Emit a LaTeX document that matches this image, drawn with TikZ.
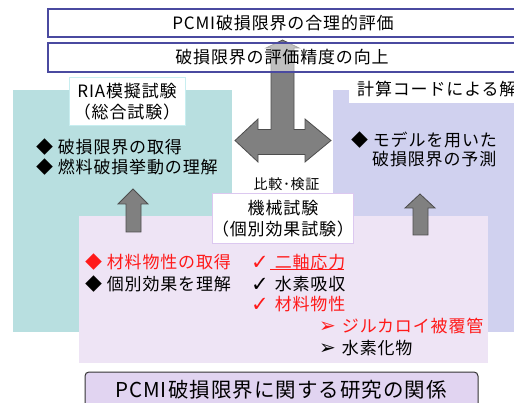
\documentclass[tikz,border=0pt]{standalone}
\usepackage{fontspec}
\setmainfont{Noto Sans CJK JP}[LetterSpace=5]
\newfontfamily\symf{DejaVu Sans}
\definecolor{tealbg}{HTML}{B8DFE0}
\definecolor{lavbg}{HTML}{D0D1EF}
\definecolor{pinkbg}{HTML}{EEE4F5}
\definecolor{capbg}{HTML}{E1D4F1}
\definecolor{navy}{HTML}{4A4AA0}
\definecolor{arrfill}{HTML}{808080}
\definecolor{arrdraw}{HTML}{4D4D4D}
\definecolor{redt}{HTML}{FF1A1A}
\definecolor{lilacb}{HTML}{DCC8F0}
\definecolor{tealb}{HTML}{C8EEF0}
\tikzset{
  txt/.style={inner sep=0pt, font=\fontsize{17}{19}\selectfont},
  bigarrow/.style={fill=arrfill, draw=arrdraw, line width=0.8pt, line join=miter},
  labelbox/.style={fill=white, line width=0.8pt},
  topbox/.style={draw=navy, line width=1.2pt},
}
\newcommand{\chk}{\raisebox{-1pt}{\symf\fontsize{21}{23}\selectfont ✓}\hspace{6pt}}
\newcommand{\arr}{\raisebox{0pt}{\symf\fontsize{20}{22}\selectfont ➢}\hspace{6pt}}
\begin{document}
\begin{tikzpicture}[x=1pt,y=-1pt]
\useasboundingbox (0,0) rectangle (514,403);
\clip (0,0) rectangle (514,403);
% top boxes
\draw[topbox, fill=white] (48,9) rectangle (530,37);
\node[txt] (t1) at (283,23) {PCMI破損限界の合理的評価};
% background regions
\fill[tealbg] (13,90) rectangle (232,332);
\fill[lavbg] (333,90) rectangle (530,332);
\fill[pinkbg] (79,216) rectangle (488,363);
% big arrow
\draw[bigarrow] (271,129.5) -- (271,48) -- (266,48) -- (282.5,40) -- (299,48) -- (294,48) -- (294,129.5)
  -- (305,129.5) -- (305,119) -- (331,140.5) -- (305,162) -- (305,154.5) -- (258,154.5) -- (258,162)
  -- (235,140.5) -- (258,119) -- (258,129.5) -- cycle;
\draw[topbox, fill=white, fill opacity=0.5] (48,43) rectangle (530,72);
\node[txt] (t2) at (282,57.5) {破損限界の評価精度の向上};
% RIA label
\draw[labelbox, draw=tealb] (69,77) rectangle (185,125);
\node[txt] (ria1) at (127,91) {RIA模擬試験};
\node[txt] (ria2) at (127,112) {（総合試験）};
% code label
\draw[labelbox, draw=white] (349,77) rectangle (530,102);
\node[txt, anchor=west] (code) at (357,89.5) {計算コードによる解析};
% teal text
\node[txt, anchor=west] (a1) at (36,147) {◆ 破損限界の取得};
\node[txt, anchor=west] (a2) at (36,167) {◆ 燃料破損挙動の理解};
% lavender text
\node[txt, anchor=west] (b1) at (351,140) {◆ モデルを用いた};
\node[txt, anchor=west] (b2) at (372,159) {破損限界の予測};
% compare label
\node[txt, font=\fontsize{14}{15}\selectfont] (cmp) at (286.5,184) {比較･検証};
% small arrows
\draw[bigarrow] (126,232) -- (126,204) -- (118,204) -- (133,189) -- (148,204) -- (141,204) -- (141,232) -- cycle;
\draw[bigarrow] (413,235) -- (413,208) -- (405,208) -- (420,194) -- (435,208) -- (428,208) -- (428,235) -- cycle;
% machine test label
\draw[labelbox, draw=lilacb] (212,193) rectangle (353,243);
\node[txt] (m1) at (283,208) {機械試験};
\node[txt] (m2) at (283,229) {（個別効果試験）};
% pink text
\node[txt, anchor=west, text=redt] (p1) at (85,262) {◆ 材料物性の取得};
\node[txt, anchor=west] (p2) at (85,284) {◆ 個別効果を理解};
\node[txt, anchor=west, text=redt] (c1) at (251,262) {\chk 二軸応力};
\draw[redt, line width=0.9pt] (270,269) -- (344,269);
\node[txt, anchor=west] (c2) at (251,284) {\chk 水素吸収};
\node[txt, anchor=west, text=redt] (c3) at (251,304) {\chk 材料物性};
\node[txt, anchor=west, text=redt] (d1) at (319,326) {\arr ジルカロイ被覆管};
\node[txt, anchor=west] (d2) at (319,348) {\arr 水素化物};
% caption
\draw[fill=capbg, draw=black!80, line width=1pt, rounded corners=4pt] (85,372) rectangle (478,420);
\node[txt, font=\fontsize{20.5}{22}\selectfont] (cap) at (281,390) {PCMI破損限界に関する研究の関係};
\end{tikzpicture}
\end{document}
